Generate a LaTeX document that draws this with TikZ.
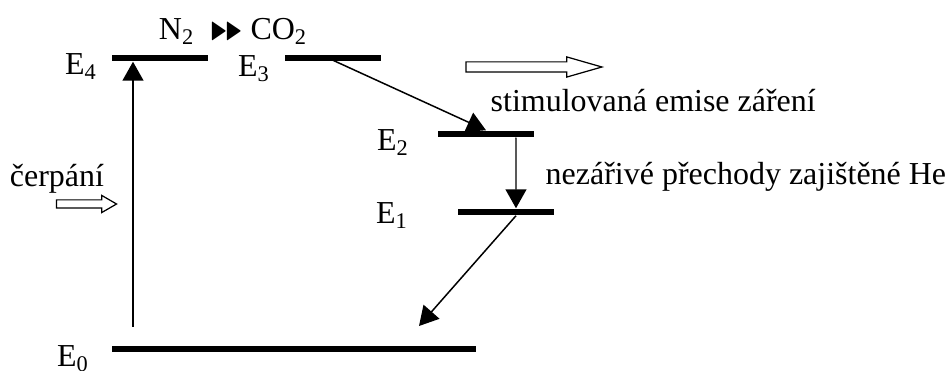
\documentclass[tikz,border=0pt]{standalone}
\usepackage{amssymb}
\usepackage{fontspec}
\setmainfont{Liberation Serif}
\usetikzlibrary{arrows.meta,shapes.arrows}

\begin{document}
\begin{tikzpicture}[x=0.02cm, y=-0.02cm, line width=0.85pt,
  font=\fontsize{18.2}{22}\selectfont,
  level/.style={fill=black, inner sep=0pt, minimum height=0.12cm, minimum width=1.92cm},
  lbl/.style={anchor=base, inner sep=0pt},
  pil/.style={-{Triangle[length=0.38cm,width=0.42cm]}},
  hollow/.style={single arrow, draw, line width=0.7pt, inner xsep=0pt, single arrow head indent=0pt}]
  \useasboundingbox (0,0) rectangle (948,371);
  % energy levels
  \node[level] (e4) at (160,58) {};
  \node[level] (e3) at (333,58) {};
  \node[level] (e2) at (486,134) {};
  \node[level] (e1) at (506,212) {};
  \node[level, minimum width=7.3cm] (e0) at (294,349) {};
  % level labels
  \node[lbl] (l4) at (81,75) {E\textsubscript{4}};
  \node[lbl] (l3) at (254,77) {E\textsubscript{3}};
  \node[lbl] (l2) at (393,151) {E\textsubscript{2}};
  \node[lbl] (l1) at (392,224) {E\textsubscript{1}};
  \node[lbl] (l0) at (73,367) {E\textsubscript{0}};
  \node[lbl] (gas) at (233,40) {N\textsubscript{2} \ \scalebox{1}[1.45]{${\scriptstyle\blacktriangleright\mkern-2mu\blacktriangleright}$} CO\textsubscript{2}};
  \node[lbl] (cerp) at (57,187) {čerpání};
  \node[lbl, anchor=base west] (stim) at (490,112) {stimulovaná emise záření};
  \node[lbl, anchor=base west] (nezar) at (545,185) {nezářivé přechody zajištěné He};
  % transitions
  \coordinate (pumpfoot) at (133,327);
  \coordinate (lowtip) at (419,326);
  \draw[pil] (pumpfoot) -- (pumpfoot |- e4.south);
  \draw[pil] ([xshift=-0.1cm]e3.center) -- (e2.north);
  \draw[pil] ([xshift=0.6cm]e2.south) -- ([xshift=0.2cm]e1.north);
  \draw[pil] ([xshift=0.2cm]e1.south) -- (lowtip);
  % hollow arrows
  \node[hollow, minimum height=1.2cm, minimum width=0.32cm, inner ysep=0.07cm,
    single arrow head extend=0.09cm, single arrow tip angle=60] (pump) at (83,204) {};
  \node[hollow, minimum height=2.72cm, minimum width=0.38cm, inner ysep=0.09cm,
    single arrow head extend=0.1cm, single arrow tip angle=32] (beam) at (525,67) {};
\end{tikzpicture}
\end{document}
